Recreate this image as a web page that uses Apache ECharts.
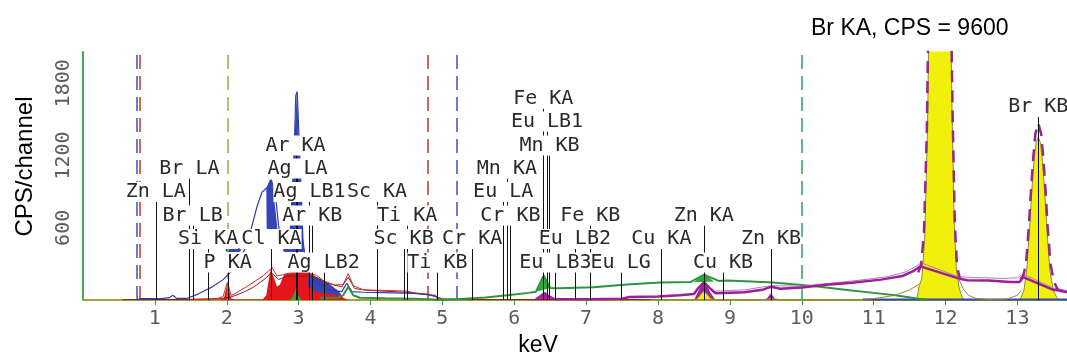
<!DOCTYPE html>
<html>
<head>
<meta charset="utf-8">
<script src="https://cdn.jsdelivr.net/npm/echarts@6.0.0/dist/echarts.min.js"></script>
<style>
  html, body { margin: 0; padding: 0; background: #fff; }
  #chart { width: 1067px; height: 362px; }
</style>
</head>
<body>
<div id="chart"></div>
<script>
// 元素谱线标记: 名称, 能量 (keV), 标记高度 (CPS)
const markerNames = ['Zn LA', 'Br LA', 'Br LB', 'Si KA', 'P KA', 'Cl KA', 'Ar KA', 'Ag LA', 'Ag LB1', 'Ar KB',
  'Ag LB2', 'Sc KA', 'Sc KB', 'Ti KA', 'Ti KB', 'Cr KA', 'Eu LA', 'Mn KA', 'Cr KB', 'Fe KA', 'Eu LB1', 'Mn KB',
  'Eu LB3', 'Eu LB2', 'Fe KB', 'Eu LG', 'Cu KA', 'Zn KA', 'Cu KB', 'Zn KB', 'Br KB'];
const markerEnergy = [1.012, 1.480, 1.526, 1.740, 2.013, 2.622, 2.957, 2.984, 3.151, 3.190,
  3.348, 4.090, 4.460, 4.510, 4.931, 5.414, 5.846, 5.898, 5.946, 6.403, 6.456, 6.490,
  6.572, 6.843, 7.057, 7.480, 8.046, 8.637, 8.904, 9.572, 13.290];
const markerHeight = [815, 1010, 620, 425, 230, 425, 1200, 1010, 815, 620,
  230, 815, 425, 620, 230, 425, 815, 1010, 620, 1590, 1400, 1200,
  230, 425, 620, 230, 425, 620, 230, 425, 1520];

// ROI 虚线位置 (keV)
const roiEnergy = [0.75, 0.79, 2.01, 4.80, 5.20, 10.00];
const roiColors = ['#3c4fc0', '#c0392b', '#a8a840', '#c0392b', '#3c4fc0', '#2f9e55'];

// 谱线数据 [keV, CPS]
const redFill = [[1.90, 0], [1.96, 15], [1.99, 90], [2.01, 150], [2.03, 90], [2.06, 15], [2.10, 5], [2.50, 5],
  [2.55, 40], [2.58, 150], [2.61, 255], [2.63, 270], [2.66, 180], [2.70, 110], [2.74, 130], [2.80, 215],
  [2.90, 225], [3.00, 228], [3.15, 225], [3.22, 200], [3.30, 175], [3.40, 145], [3.48, 110], [3.55, 60],
  [3.62, 20], [3.70, 0]];
const redLine = [[1.50, 5], [1.85, 10], [1.95, 30], [2.01, 150], [2.06, 40], [2.12, 55], [2.20, 85], [2.30, 120],
  [2.40, 160], [2.50, 200], [2.58, 240], [2.63, 270], [2.70, 200], [2.78, 210], [2.90, 230], [3.10, 230],
  [3.25, 205], [3.35, 160], [3.50, 125], [3.62, 130], [3.69, 220], [3.76, 120], [3.90, 85], [4.20, 80],
  [4.50, 75], [4.65, 55], [4.80, 45], [4.95, 20], [5.05, 0]];
const darkRedLine = [[0.55, 4], [1.50, 6], [1.90, 12], [2.05, 25], [2.15, 45], [2.25, 70], [2.35, 100], [2.45, 140],
  [2.55, 185], [2.62, 230], [2.72, 170], [2.85, 200], [3.20, 200], [3.40, 140], [3.60, 110], [3.69, 190],
  [3.78, 95], [4.00, 80], [4.50, 65], [4.80, 50], [5.00, 10], [5.30, 4], [7.90, 4]];
const blueLine = [[0.75, 0], [0.80, 12], [1.10, 12], [1.20, 20], [1.25, 40], [1.30, 15], [1.45, 15], [1.60, 50],
  [1.80, 110], [1.95, 170], [2.10, 260], [2.25, 420], [2.32, 545], [2.42, 775], [2.49, 895], [2.57, 940],
  [2.62, 1000], [2.68, 860], [2.72, 620], [2.78, 430], [2.90, 430], [2.96, 1700], [2.98, 1730], [3.01, 1300],
  [3.06, 500], [3.10, 300], [3.16, 190], [3.25, 140], [3.35, 115], [3.44, 80], [3.60, 70], [3.67, 140],
  [3.74, 70], [3.90, 65], [4.30, 60], [4.60, 55], [4.90, 40], [4.95, 5], [5.30, 3]];
const blueBaseline = [[10.85, 4], [13.69, 4]];
// 带状填充 [keV, 下沿, 上沿]
const blueBandSi = [[1.98, 415, 415], [2.00, 400, 430], [2.18, 400, 430], [2.20, 415, 415]];
const blueBandCl = [[2.550, 930, 930], [2.556, 560, 935], [2.60, 560, 1000], [2.63, 560, 990], [2.66, 560, 840],
  [2.70, 560, 620], [2.705, 560, 560]];
const blueBandAr = [[2.78, 415, 415], [2.80, 400, 430], [2.86, 400, 430], [2.88, 400, 630], [2.943, 400, 1360],
  [2.976, 400, 1740], [3.00, 400, 1360], [3.05, 400, 630], [3.07, 400, 430], [3.09, 415, 415]];
const blueBandLow = [[3.12, 150, 150], [3.15, 100, 210], [3.25, 70, 190], [3.35, 60, 160], [3.45, 50, 120],
  [3.55, 40, 80], [3.60, 40, 40]];
const greenPeakAr = [[2.88, 0, 0], [2.93, 0, 40], [2.96, 0, 100], [2.99, 0, 40], [3.04, 0, 0]];
const greenPeakFe = [[6.30, 70, 70], [6.36, 78, 130], [6.41, 85, 205], [6.46, 95, 130], [6.52, 100, 100]];
const greenPeakZn = [[8.50, 148, 148], [8.57, 150, 185], [8.64, 150, 212], [8.71, 152, 185], [8.78, 155, 155]];
const greenLine = [[3.30, 15], [3.55, 20], [3.62, 40], [3.69, 110], [3.76, 40], [3.85, 20], [4.20, 15], [4.60, 12],
  [4.97, 3], [5.30, 12], [5.60, 22], [5.90, 40], [6.20, 60], [6.30, 70], [6.41, 205], [6.50, 100], [6.63, 98],
  [7.10, 106], [7.57, 130], [8.03, 147], [8.45, 150], [8.64, 212], [8.85, 158], [8.96, 163], [9.30, 155],
  [9.60, 147], [10.00, 125], [10.25, 110], [10.60, 85], [11.00, 60], [11.30, 40], [11.60, 14], [11.75, 3]];
const magentaFill = [[6.33, 0], [6.38, 30], [6.42, 60], [6.47, 30], [6.52, 0], [8.50, 0], [8.55, 60], [8.60, 120],
  [8.64, 150], [8.68, 120], [8.73, 60], [8.80, 0], [9.50, 0], [9.54, 35], [9.57, 55], [9.60, 35], [9.64, 0]];
const magentaLine = [[6.30, 5], [6.36, 30], [6.42, 60], [6.48, 30], [6.55, 10], [7.00, 8], [7.50, 12], [7.60, 25],
  [8.00, 30], [8.30, 40], [8.50, 50], [8.56, 100], [8.64, 150], [8.72, 100], [8.80, 57], [9.20, 65], [9.45, 85],
  [9.57, 110], [9.70, 95], [10.00, 105], [10.30, 125], [10.70, 145], [11.10, 170], [11.40, 200], [11.55, 240],
  [11.65, 280], [12.18, 180], [12.30, 165], [12.60, 163], [12.90, 150], [13.03, 150], [13.08, 190], [13.50, 85],
  [13.58, 80], [13.69, 65]];
const purpleThin = [[8.80, 75], [9.20, 85], [9.57, 120], [10.00, 115], [10.40, 140], [10.80, 165], [11.20, 195],
  [11.45, 235], [11.60, 285], [11.66, 310], [12.17, 195], [12.30, 190], [12.80, 180], [13.00, 185], [13.08, 215],
  [13.50, 100], [13.69, 80]];
const yellowFill = [[8.45, 0], [8.54, 10], [8.60, 50], [8.64, 75], [8.68, 50], [8.74, 10], [8.82, 0], [11.60, 0],
  [11.63, 110], [11.67, 180], [11.71, 500], [11.75, 1450], [11.78, 2800], [11.82, 5100], [11.86, 7700],
  [11.90, 9300], [11.92, 9550], [11.94, 9300], [11.98, 7700], [12.02, 5100], [12.06, 2800], [12.09, 1600],
  [12.12, 650], [12.15, 260], [12.19, 100], [12.23, 25], [12.26, 0], [13.02, 0], [13.05, 20], [13.09, 80],
  [13.13, 250], [13.17, 600], [13.20, 900], [13.23, 1150], [13.26, 1310], [13.29, 1350], [13.32, 1310],
  [13.35, 1150], [13.38, 900], [13.41, 600], [13.45, 250], [13.50, 80], [13.55, 20], [13.58, 0], [13.69, 0]];
const oliveTailLeft = [[7.90, 4], [9.45, 4], [9.57, 14], [9.70, 4], [10.80, 4], [11.00, 12], [11.30, 40],
  [11.50, 85], [11.63, 130]];
const oliveTailMid = [[12.18, 180], [12.25, 90], [12.32, 40], [12.43, 12], [12.60, 5], [12.85, 8], [13.00, 40],
  [13.05, 80]];
const brKaOutline = [[11.62, 230], [11.66, 290], [11.70, 560], [11.74, 1400], [11.77, 2700], [11.81, 5000],
  [11.85, 7600], [11.89, 9300], [11.92, 9700], [11.95, 9300], [11.99, 7600], [12.03, 5000], [12.07, 2700],
  [12.10, 1500], [12.13, 620], [12.16, 280], [12.20, 180]];
const brKbOutline = [[13.04, 170], [13.08, 200], [13.12, 300], [13.16, 620], [13.19, 920], [13.22, 1180],
  [13.25, 1380], [13.29, 1470], [13.33, 1380], [13.36, 1180], [13.39, 920], [13.42, 620], [13.46, 300],
  [13.51, 150], [13.56, 90], [13.62, 70]];

const MONO = '"DejaVu Sans Mono", monospace';

function line(name, data, color, width, z, extra) {
  return Object.assign({
    name, type: 'line', data, z, silent: true,
    showSymbol: false, symbol: 'none',
    lineStyle: { color, width },
  }, extra || {});
}

function area(name, data, color, z, edge, edgeWidth) {
  return line(name, data, edge || color, edgeWidth || 0, z, {
    areaStyle: { color, opacity: 1 },
  });
}

// 带状多边形: 上沿正向, 下沿反向
function band(name, pieces, color, z) {
  return {
    name, type: 'custom', z, silent: true,
    data: [[pieces[0][0][0], 0]],
    renderItem: (params, api) => ({
      type: 'group',
      children: pieces.map(rows => ({
        type: 'polygon',
        shape: {
          points: rows.map(r => api.coord([r[0], r[2]]))
            .concat(rows.slice().reverse().map(r => api.coord([r[0], r[1]]))),
        },
        style: { fill: color },
      })),
    }),
  };
}

const markerData = markerEnergy.map((e, i) => [e, markerHeight[i]]);

const chart = echarts.init(document.getElementById('chart'));

const option = {
  animation: false,
  title: {
    text: 'Br KA, CPS = 9600',
    left: 806,
    top: 12,
    textStyle: { fontFamily: '"Liberation Sans", Arial', fontSize: 23, fontWeight: 'normal', color: '#000' },
  },
  grid: { left: 83, right: 0, top: 52, bottom: 57 },
  xAxis: {
    type: 'value',
    min: 0,
    max: 13.69,
    interval: 1,
    name: 'keV',
    nameLocation: 'middle',
    nameGap: 32,
    nameTextStyle: {
      fontFamily: '"Liberation Sans", Arial', fontSize: 23, color: '#000',
      padding: [0, 74, 0, 0],
    },
    axisLine: { lineStyle: { color: '#a0a03c', width: 2 } },
    axisTick: { show: true, length: 5, lineStyle: { color: '#3a9a3a' } },
    axisLabel: {
      showMinLabel: false, showMaxLabel: false, margin: 9,
      fontFamily: MONO, fontSize: 20, color: '#5c5c5c',
      formatter: v => String(v),
    },
    splitLine: { show: false },
  },
  yAxis: {
    type: 'value',
    min: 0,
    max: 2060,
    interval: 600,
    name: 'CPS/channel',
    nameLocation: 'middle',
    nameGap: 46,
    nameTextStyle: {
      fontFamily: '"Liberation Sans", Arial', fontSize: 24, color: '#000',
      padding: [0, 0, 0, 19],
    },
    axisLine: { show: true, lineStyle: { color: '#4ca64c', width: 2 } },
    axisTick: { show: false },
    axisLabel: {
      rotate: 90, showMinLabel: false, showMaxLabel: false, margin: 9,
      fontFamily: MONO, fontSize: 20, color: '#5c5c5c',
      formatter: v => String(v),
    },
    splitLine: { show: false },
  },
  series: [
    area('redFill', redFill, '#e4161b', 2),
    band('blueBand', [blueBandSi, blueBandCl, blueBandAr, blueBandLow], '#3646b8', 3),
    band('greenBand', [greenPeakAr, greenPeakFe, greenPeakZn], '#2fa83a', 4),
    area('magentaFill', magentaFill, '#a3209f', 5),
    area('yellowFill', yellowFill, '#f0f00a', 6, '#8e8e2a', 1),
    line('darkRed', darkRedLine, '#8a1c1c', 1, 7),
    line('red', redLine, '#d42a2a', 1, 7),
    line('blue', blueLine, '#2e3fae', 1.2, 7),
    line('blueBase', blueBaseline, '#3848a8', 2, 7),
    line('green', greenLine, '#2d9440', 2, 8),
    line('purpleThin', purpleThin, '#b679c9', 1, 8),
    line('magenta', magentaLine, '#9c1f96', 2.5, 8),
    line('oliveL', oliveTailLeft, '#8e8e2a', 1, 9),
    line('oliveM', oliveTailMid, '#8e8e2a', 1, 9),
    line('brKa', brKaOutline, '#93288f', 2.5, 10, { lineStyle: { color: '#93288f', width: 2.5, type: [12, 8] } }),
    line('brKb', brKbOutline, '#93288f', 2.5, 10, { lineStyle: { color: '#93288f', width: 2.5, type: [12, 8] } }),
    {
      name: 'roi', type: 'line', data: [], z: 11, silent: true,
      markLine: {
        silent: true,
        symbol: 'none',
        label: { show: false },
        animation: false,
        data: roiEnergy.map((e, i) => ({
          xAxis: e,
          lineStyle: { color: roiColors[i], width: 1.5, type: [14, 7] },
        })),
      },
    },
    {
      name: 'markerLines', type: 'custom', z: 12, silent: true,
      data: markerData,
      renderItem: (params, api) => {
        const b = api.coord([api.value(0), 0]);
        const t = api.coord([api.value(0), api.value(1)]);
        const x = Math.round(b[0]) + 0.5;
        return {
          type: 'line',
          shape: { x1: x, y1: b[1], x2: x, y2: t[1] },
          style: { stroke: '#111', lineWidth: 1 },
        };
      },
    },
    {
      name: 'markerLabels', type: 'custom', z: 13, silent: true,
      data: markerData,
      renderItem: (params, api) => {
        const t = api.coord([api.value(0), api.value(1)]);
        return {
          type: 'text',
          style: {
            text: markerNames[params.dataIndex],
            x: t[0], y: t[1],
            align: 'center', verticalAlign: 'bottom',
            font: '20px ' + MONO,
            lineHeight: 20,
            fill: '#2a2a2a',
            backgroundColor: '#fff',
          },
        };
      },
    },
  ],
};

chart.setOption(option);
</script>
</body>
</html>
